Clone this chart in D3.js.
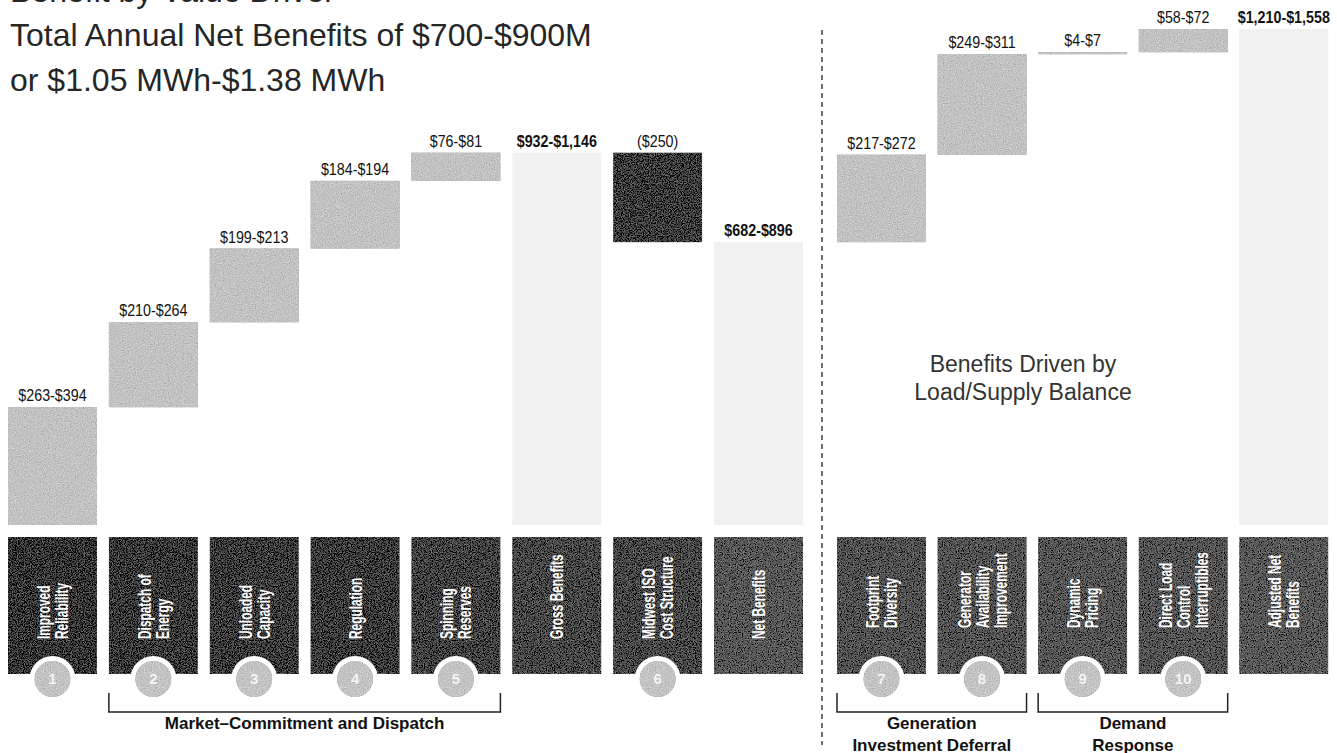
<!DOCTYPE html>
<html>
<head>
<meta charset="utf-8">
<script src="https://cdn.jsdelivr.net/npm/d3@7"></script>
<style>
  body { margin: 0; background: #fff; }
  svg { display: block; }
  .title { font-family: "Liberation Sans", Arial, sans-serif; font-size: 32px; fill: #262626; }
  .value { font-family: "Liberation Sans", Arial, sans-serif; font-size: 17px; fill: #111; text-anchor: middle; }
  .value.total { font-weight: bold; }
  .boxlabel { font-family: "Liberation Sans", Arial, sans-serif; font-size: 18px; font-weight: bold; fill: #fff; }
  .num { font-family: "Liberation Sans", sans-serif; font-size: 15px; font-weight: bold; fill: #f4f4f4; text-anchor: middle; }
  .group { font-family: "Liberation Sans", Arial, sans-serif; font-size: 17px; font-weight: bold; fill: #111; text-anchor: middle; }
  .note { font-family: "Liberation Sans", Arial, sans-serif; font-size: 23px; fill: #333; text-anchor: middle; }
</style>
</head>
<body>
<script>
var width = 1337,
    height = 753;

// value drivers, left of the divider then right of it
var categories = ["Improved Reliability", "Dispatch of Energy", "Unloaded Capacity", "Regulation",
  "Spinning Reserves", "Gross Benefits", "Midwest ISO Cost Structure", "Net Benefits",
  "Footprint Diversity", "Generator Availability Improvement", "Dynamic Pricing",
  "Direct Load Control Interruptibles", "Adjusted Net Benefits"];
var boxLines = [["Improved", "Reliability"], ["Dispatch of", "Energy"], ["Unloaded", "Capacity"], ["Regulation"],
  ["Spinning", "Reserves"], ["Gross Benefits"], ["Midwest ISO", "Cost Structure"], ["Net Benefits"],
  ["Footprint", "Diversity"], ["Generator", "Availability", "Improvement"], ["Dynamic", "Pricing"],
  ["Direct Load", "Control", "Interruptibles"], ["Adjusted Net", "Benefits"]];
var lows  = [263, 210, 199, 184, 76, 932, -250, 682, 217, 249, 4, 58, 1210];
var highs = [394, 264, 213, 194, 81, 1146, -250, 896, 272, 311, 7, 72, 1558];
var kinds = ["step", "step", "step", "step", "step", "total", "cost", "total", "step", "step", "step", "step", "total"];
var numbers = ["1", "2", "3", "4", "5", "", "6", "", "7", "8", "9", "10", ""];
var leftCount = 8;

var titleLines = ["Benefit by Value Driver", "Total Annual Net Benefits of $700-$900M", "or $1.05 MWh-$1.38 MWh"];
var noteLines = ["Benefits Driven by", "Load/Supply Balance"];
var groups = [
  { from: 1, to: 4, lines: ["Market\u2013Commitment and Dispatch"] },
  { from: 8, to: 9, lines: ["Generation", "Investment Deferral"] },
  { from: 10, to: 11, lines: ["Demand", "Response"] }
];

var fmt = d3.format(",");
function rangeLabel(i) {
  if (lows[i] === highs[i]) return lows[i] < 0 ? "($" + fmt(-lows[i]) + ")" : "$" + fmt(lows[i]);
  return "$" + fmt(lows[i]) + "-$" + fmt(highs[i]);
}

// squeeze text horizontally, the original uses a condensed face
function condense(sel, k) {
  sel.each(function() {
    var len = this.getComputedTextLength();
    d3.select(this).attr("textLength", len * k).attr("lengthAdjust", "spacingAndGlyphs");
  });
}

// waterfall: each step starts where the running total ended
var running = 0;
var bars = categories.map(function(c, i) {
  var mid = (lows[i] + highs[i]) / 2, y0, y1;
  if (kinds[i] === "total") { y0 = 0; y1 = mid; running = mid; }
  else { y0 = running; y1 = running + mid; running = y1; }
  return { i: i, name: c, kind: kinds[i], y0: y0, y1: y1, label: rangeLabel(i), lines: boxLines[i], num: numbers[i] };
});

var xLeft = d3.scaleBand()
  .domain(categories.slice(0, leftCount))
  .range([8, 803])
  .paddingInner(0.118)
  .paddingOuter(0);
var xRight = d3.scaleBand()
  .domain(categories.slice(leftCount))
  .range([837, 1328])
  .paddingInner(0.118)
  .paddingOuter(0);
function xs(d) { return d.i < leftCount ? xLeft(d.name) : xRight(d.name); }
var bw = xLeft.bandwidth();

var y = d3.scaleLinear()
  .domain([0, d3.max(bars, function(d) { return Math.max(d.y0, d.y1); })])
  .range([525, 29]);

var fills = { step: "#c3c3c3", total: "#f1f1f1", cost: "#3e3e3e" };
var boxFills = ["#383838", "#3c3c3c", "#3e3e3e", "#3e3e3e", "#454545", "#4a4a4a", "#4a4a4a", "#595959",
  "#545454", "#555555", "#575757", "#565656", "#5a5a5a"];

var svg = d3.select("body").append("svg")
  .attr("width", width)
  .attr("height", height);

// speckled print look
var grain = svg.append("defs").append("filter")
  .attr("id", "grain")
  .attr("x", 0).attr("y", 0).attr("width", 1).attr("height", 1);
grain.append("feTurbulence")
  .attr("type", "fractalNoise")
  .attr("baseFrequency", 0.85)
  .attr("numOctaves", 2)
  .attr("seed", 7)
  .attr("result", "noise");
grain.append("feColorMatrix")
  .attr("in", "noise")
  .attr("type", "matrix")
  .attr("values", "0.33 0.33 0.33 0 0  0.33 0.33 0.33 0 0  0.33 0.33 0.33 0 0  0 0 0 0 1")
  .attr("result", "gray");
grain.append("feComposite")
  .attr("in", "SourceGraphic")
  .attr("in2", "gray")
  .attr("operator", "arithmetic")
  .attr("k1", 0).attr("k2", 1).attr("k3", 0.9).attr("k4", -0.45)
  .attr("result", "mix");
grain.append("feComposite")
  .attr("in", "mix")
  .attr("in2", "SourceAlpha")
  .attr("operator", "in");

svg.selectAll(".title")
  .data(titleLines)
  .enter().append("text")
    .attr("class", "title")
    .attr("x", 10)
    .attr("y", function(d, i) { return 2 + i * 44.3; })
    .text(function(d) { return d; });

// divider between market benefits and load/supply benefits
svg.append("line")
  .attr("x1", 822).attr("x2", 822)
  .attr("y1", 30).attr("y2", 745)
  .attr("stroke", "#333")
  .attr("stroke-width", 1.4)
  .attr("stroke-dasharray", "5,4");

svg.append("g")
  .attr("class", "bars")
  .selectAll("rect")
  .data(bars)
  .enter().append("rect")
    .attr("x", xs)
    .attr("width", bw)
    .attr("y", function(d) { return y(Math.max(d.y0, d.y1)); })
    .attr("height", function(d) { return Math.max(1.5, Math.abs(y(d.y0) - y(d.y1))); })
    .attr("fill", function(d) { return fills[d.kind]; })
    .attr("filter", function(d) { return d.kind === "total" ? null : "url(#grain)"; });

svg.append("g")
  .selectAll("text")
  .data(bars)
  .enter().append("text")
    .attr("class", function(d) { return d.kind === "total" ? "value total" : "value"; })
    .attr("x", function(d) { return xs(d) + bw / 2; })
    .attr("y", function(d) { return y(Math.max(d.y0, d.y1)) - 6; })
    .text(function(d) { return d.label; })
    .call(condense, 0.84);

svg.selectAll(".note")
  .data(noteLines)
  .enter().append("text")
    .attr("class", "note")
    .attr("x", 1023)
    .attr("y", function(d, i) { return 372 + i * 28; })
    .text(function(d) { return d; });

// label boxes with rotated names
var box = svg.append("g")
  .selectAll("g")
  .data(bars)
  .enter().append("g")
    .attr("transform", function(d) { return "translate(" + xs(d) + ",537)"; });

box.append("rect")
  .attr("width", bw)
  .attr("height", 137)
  .attr("fill", function(d) { return boxFills[d.i]; })
  .attr("filter", "url(#grain)");

box.each(function(d) {
  var g = d3.select(this);
  var n = d.lines.length;
  var base = d.i < leftCount ? 102 : 91;
  d.lines.forEach(function(line, k) {
    var cx = bw / 2 + (k - (n - 1) / 2) * 18 + 6.5;
    g.append("text")
      .attr("class", "boxlabel")
      .attr("transform", "translate(" + cx + "," + base + ") rotate(-90)")
      .text(line)
      .call(condense, 0.66);
  });
});

var numbered = box.filter(function(d) { return d.num !== ""; });
numbered.append("circle")
  .attr("cx", bw / 2).attr("cy", 142)
  .attr("r", 23)
  .attr("fill", "#fff");
numbered.append("circle")
  .attr("cx", bw / 2).attr("cy", 142)
  .attr("r", 18)
  .attr("fill", "#c4c4c4")
  .attr("filter", "url(#grain)");
numbered.append("text")
  .attr("class", "num")
  .attr("x", bw / 2).attr("y", 147)
  .text(function(d) { return d.num; });

// brackets under the grouped drivers
var grp = svg.append("g")
  .selectAll("g")
  .data(groups)
  .enter().append("g");

grp.append("path")
  .attr("fill", "none")
  .attr("stroke", "#222")
  .attr("stroke-width", 1.5)
  .attr("d", function(d) {
    var a = xs(bars[d.from]), b = xs(bars[d.to]) + bw;
    return "M" + a + ",693V712H" + b + "V693";
  });

grp.each(function(d) {
  var g = d3.select(this);
  var cx = (xs(bars[d.from]) + xs(bars[d.to]) + bw) / 2;
  d.lines.forEach(function(line, k) {
    g.append("text")
      .attr("class", "group")
      .attr("x", cx)
      .attr("y", 729 + k * 22)
      .text(line);
  });
});
</script>
</body>
</html>
